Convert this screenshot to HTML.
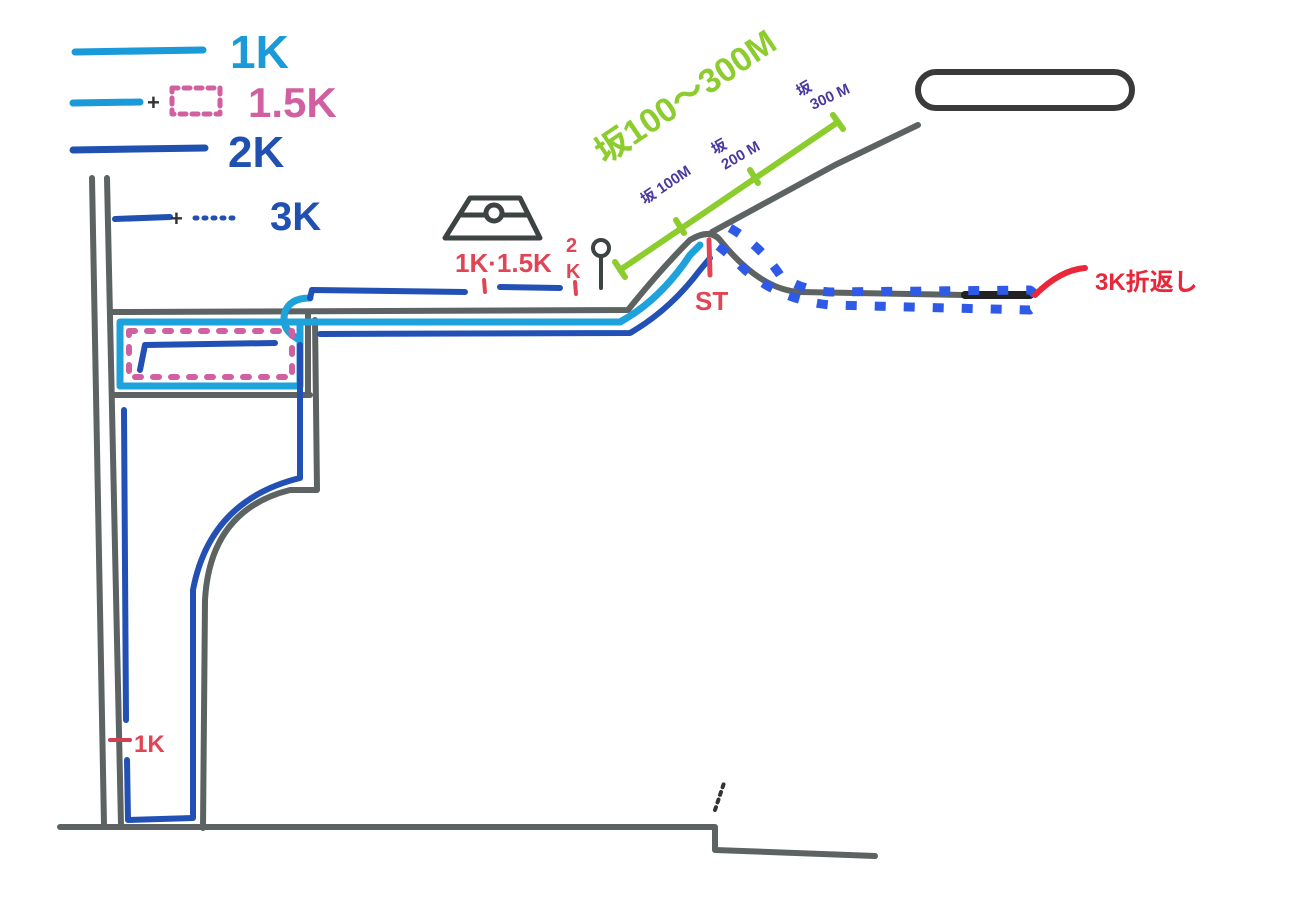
<!DOCTYPE html>
<html><head><meta charset="utf-8"><style>
html,body{margin:0;padding:0;background:#fff;}
svg{display:block}
text{font-family:"Liberation Sans","Noto Sans CJK JP",sans-serif;font-weight:bold}
</style></head><body>
<svg width="1291" height="911" viewBox="0 0 1291 911" xmlns="http://www.w3.org/2000/svg" fill="none" stroke-linecap="round" stroke-linejoin="round">
<!-- legend -->
<line x1="75" y1="52" x2="203" y2="50" stroke="#1a9ad8" stroke-width="7"/>
<text x="230" y="68" font-size="46" fill="#1a9ad8">1K</text>
<line x1="73" y1="103" x2="140" y2="102" stroke="#1a9ad8" stroke-width="7"/>
<text x="147" y="110" font-size="22" fill="#333">+</text>
<rect x="172" y="88" width="48" height="26" stroke="#d060a0" stroke-width="5" stroke-dasharray="6 6"/>
<text x="248" y="117" font-size="42" fill="#d060a0" font-weight="normal">1.5K</text>
<line x1="73" y1="150" x2="205" y2="148" stroke="#2050b0" stroke-width="7"/>
<text x="228" y="167" font-size="44" fill="#2050b0">2K</text>
<line x1="115" y1="219" x2="170" y2="217" stroke="#2050b0" stroke-width="6"/>
<text x="170" y="226" font-size="22" fill="#333">+</text>
<line x1="195" y1="218" x2="240" y2="218" stroke="#2050b0" stroke-width="5" stroke-dasharray="2 7"/>
<text x="270" y="230" font-size="40" fill="#2050b0">3K</text>

<!-- gray roads -->
<g stroke="#5d6262" stroke-width="6">
<line x1="92" y1="178" x2="104" y2="825"/>
<line x1="107" y1="178" x2="121" y2="825"/>
<path d="M113 312 L628 310 Q660 270 690 240 Q710 228 720 240 Q760 290 800 292 L965 295"/>
<path d="M712 232 L835 165 L918 125"/>
<line x1="113" y1="395" x2="310" y2="395"/>
<line x1="308" y1="312" x2="308" y2="395"/>
<path d="M315 320 L317 490 L290 490 Q210 510 205 600 L203 828"/>
<path d="M60 827 L715 827 L715 850 L875 856"/>
<rect x="918" y="72" width="214" height="36" rx="18" stroke="#3a3a3a"/>
</g>
<line x1="965" y1="295" x2="1030" y2="295" stroke="#222" stroke-width="8"/>
<path d="M715 810 L725 780" stroke="#333" stroke-width="4" stroke-dasharray="3 5"/>

<!-- light blue -->
<g stroke="#1ea2dc" stroke-width="7">
<rect x="120" y="322" width="180" height="64"/>
<path d="M300 340 Q280 330 285 312 Q290 298 310 298 L308 298" />
<path d="M288 322 L620 322 Q660 300 690 255 L700 245"/>
</g>
<!-- pink dotted -->
<rect x="129" y="331" width="163" height="46" stroke="#d060a0" stroke-width="6" stroke-dasharray="6 12"/>
<!-- dark blue -->
<g stroke="#2250b4" stroke-width="6">
<path d="M140 370 L145 345 L275 343"/>
<path d="M320 334 L630 333 Q670 310 700 270 L710 258"/>
<path d="M310 298 L312 290 L465 292"/>
<line x1="500" y1="287" x2="560" y2="288"/>
<path d="M300 345 L300 478 Q210 500 193 590 L193 818 L128 820 L127 760"/>
<line x1="124" y1="410" x2="126" y2="720"/>
</g>
<!-- blue dotted loop -->
<path d="M730 228 Q760 245 780 275 Q800 290 830 292 L1030 290 Q1045 300 1030 310 L830 305 Q780 300 745 270 Q725 250 710 240" stroke="#2f5ae8" stroke-width="9" stroke-linecap="butt" stroke-dasharray="11 18"/>

<!-- green slope -->
<g stroke="#8ccc2c" stroke-width="6">
<line x1="620" y1="270" x2="838" y2="122"/>
<line x1="615" y1="262" x2="625" y2="277"/>
<line x1="676" y1="220" x2="684" y2="233"/>
<line x1="750" y1="170" x2="758" y2="183"/>
<line x1="833" y1="115" x2="843" y2="129"/>
</g>
<text transform="translate(605,165) rotate(-34)" font-size="34" fill="#8ccc2c">坂100〜300M</text>
<text transform="translate(645,205) rotate(-34)" font-size="15" fill="#4a3aa0" font-weight="normal">坂 100M</text>
<text transform="translate(715,155) rotate(-30)" font-size="15" fill="#4a3aa0" font-weight="normal">坂</text>
<text transform="translate(725,170) rotate(-30)" font-size="15" fill="#4a3aa0" font-weight="normal">200 M</text>
<text transform="translate(800,97) rotate(-30)" font-size="15" fill="#4a3aa0" font-weight="normal">坂</text>
<text transform="translate(813,110) rotate(-25)" font-size="15" fill="#4a3aa0" font-weight="normal">300 M</text>

<!-- building -->
<g stroke="#3d4242" stroke-width="5">
<path d="M445 238 L540 238 L520 198 L470 198 Z"/>
<line x1="462" y1="215" x2="528" y2="215"/>
<circle cx="494" cy="213" r="8" fill="#fff"/>
</g>
<!-- person -->
<g stroke="#3d4242" stroke-width="4">
<circle cx="601" cy="248" r="8"/>
<line x1="601" y1="256" x2="601" y2="288"/>
</g>
<!-- red labels -->
<text x="455" y="272" font-size="26" fill="#e04555">1K·1.5K</text>
<line x1="484" y1="280" x2="485" y2="292" stroke="#e04555" stroke-width="4"/>
<text x="566" y="252" font-size="20" fill="#e04555">2</text>
<text x="566" y="278" font-size="20" fill="#e04555">K</text>
<line x1="575" y1="282" x2="576" y2="294" stroke="#e04555" stroke-width="4"/>
<line x1="709" y1="240" x2="710" y2="275" stroke="#e04555" stroke-width="5"/>
<text x="695" y="310" font-size="26" fill="#e04555" font-weight="normal">ST</text>
<path d="M1035 295 Q1060 270 1085 268" stroke="#e8283a" stroke-width="6"/>
<text x="1095" y="290" font-size="24" fill="#e8283a">3K折返し</text>
<line x1="110" y1="740" x2="130" y2="740" stroke="#d04050" stroke-width="4"/>
<text x="134" y="752" font-size="24" fill="#e04555" font-weight="normal">1K</text>
</svg>
</body></html>
